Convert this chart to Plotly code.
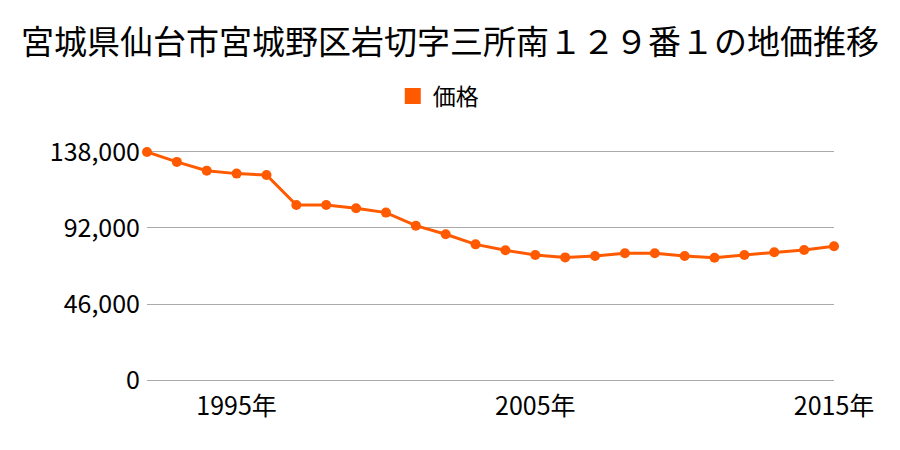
import plotly.graph_objects as go

years = list(range(1992, 2016))
prices = [138000, 132000, 126700, 124900, 124100, 105900, 105900, 103900, 101300,
          93400, 88200, 82100, 78500, 75700, 74200, 75000, 76700, 76700, 75000,
          74000, 75700, 77300, 78700, 80900]
tick_years = [1995, 2005, 2015]
tick_text = [f"{y}年" for y in tick_years]
y_ticks = [0, 46000, 92000, 138000]
y_text = ["0", "46,000", "92,000", "138,000"]

color = "#FF5A00"
font = "Noto Sans CJK JP"

fig = go.Figure()
fig.add_trace(go.Scatter(x=years, y=prices, mode="lines+markers",
                         line=dict(color=color, width=3),
                         marker=dict(color=color, size=10),
                         cliponaxis=False, showlegend=False, name="価格"))
fig.add_trace(go.Scatter(x=[None], y=[None], mode="markers",
                         marker=dict(color=color, size=20, symbol="square"),
                         name="価格", showlegend=True))

fig.update_layout(
    width=900, height=450,
    margin=dict(l=147, r=66, t=149, b=67),
    paper_bgcolor="white", plot_bgcolor="white",
    font=dict(family=font, color="#000000"),
    title=dict(text="宮城県仙台市宮城野区岩切字三所南１２９番１の地価推移",
               x=0.5, xanchor="center", y=0.905, yanchor="middle",
               font=dict(size=33, color="#000000", family=font)),
    legend=dict(orientation="h", x=0.424, xanchor="center", y=1.226, yanchor="middle",
                font=dict(size=23), itemsizing="trace"),
    xaxis=dict(range=[1992, 2015], tickvals=tick_years, ticktext=tick_text,
               showgrid=False, zeroline=False, showline=False, ticks="",
               tickfont=dict(size=25), ticklabelstandoff=6),
    yaxis=dict(range=[-1800, 139800], tickvals=y_ticks, ticktext=y_text,
               showgrid=True, gridcolor="#AAAAAA", gridwidth=1, zeroline=False,
               showline=False, ticks="", tickfont=dict(size=25), ticklabelstandoff=6),
)

fig.write_html("out.html")
